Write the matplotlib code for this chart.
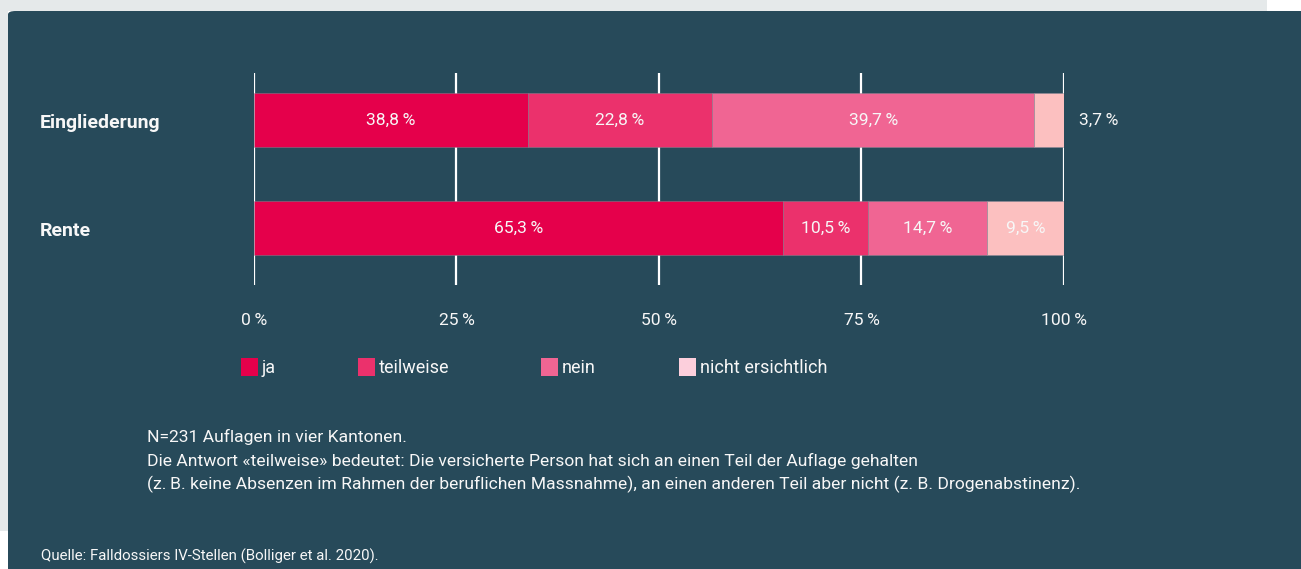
import matplotlib
matplotlib.use("Agg")
import matplotlib.pyplot as plt
from matplotlib import font_manager
from matplotlib.patches import FancyBboxPatch, Rectangle

# data
categories = ["Eingliederung", "Rente"]
answers = ["ja", "teilweise", "nein", "nicht ersichtlich"]
eingliederung = [33.8, 22.8, 39.7, 3.7]
rente = [65.3, 10.5, 14.7, 9.5]
eingliederung_labels = ["38,8\u2009%", "22,8\u2009%", "39,7\u2009%", "3,7\u2009%"]
rente_labels = ["65,3\u2009%", "10,5\u2009%", "14,7\u2009%", "9,5\u2009%"]
tick_values = [0, 25, 50, 75, 100]
tick_labels = ["0\u2009%", "25\u2009%", "50\u2009%", "75\u2009%", "100\u2009%"]
notes = [
    "N=231 Auflagen in vier Kantonen.",
    "Die Antwort «teilweise» bedeutet: Die versicherte Person hat sich an einen Teil der Auflage gehalten",
    "(z.\u2009B. keine Absenzen im Rahmen der beruflichen Massnahme), an einen anderen Teil aber nicht (z. B. Drogenabstinenz).",
]
source = "Quelle: Falldossiers IV-Stellen (Bolliger et al. 2020)."

BG = "#274a5a"
COLORS = ["#e5004b", "#eb316c", "#f06593", "#fcc0c0"]
LEGEND_COLORS = ["#e5004b", "#eb316c", "#f06593", "#fccfdc"]
TEXT = "#f7f7f7"
FS = 12.6

available = {f.name for f in font_manager.fontManager.ttflist}
FONT = "Liberation Sans Narrow" if "Liberation Sans Narrow" in available else "Roboto"
plt.rcParams["font.family"] = [FONT, "DejaVu Sans"]

W, H = 1301, 569
fig = plt.figure(figsize=(W / 100, H / 100), dpi=100, facecolor="white")


def fx(px):
    return px / W


def fy(py):
    return 1 - py / H


# page background pieces
fig.patches.append(Rectangle((0, fy(11)), fx(1267), 11 / H, transform=fig.transFigure,
                             facecolor="#e5e9ea", edgecolor="none", zorder=0))
fig.patches.append(Rectangle((0, fy(531)), fx(8), 520 / H, transform=fig.transFigure,
                             facecolor="#e5e9ea", edgecolor="none", zorder=0))
# panel runs past the right and bottom edges so only the top-left corner is rounded
fig.patches.append(FancyBboxPatch((fx(8), -0.1), 1.1 - fx(8), fy(11) + 0.1,
                                  transform=fig.transFigure,
                                  boxstyle="round,pad=0,rounding_size=0.006",
                                  facecolor=BG, edgecolor="none", zorder=0.5))

# bar area: x 0..100 -> px 254..1064, gridlines from y 73 to 285
ax = fig.add_axes([fx(254), fy(285), fx(1064) - fx(254), (285 - 73) / H])
ax.set_zorder(5)
ax.set_xlim(0, 100)
ax.set_ylim(1.528, -0.435)
ax.axis("off")

for t in tick_values:
    ax.axvline(t, color="white", lw=1.6, zorder=1)

for i, (vals, labels) in enumerate([(eingliederung, eingliederung_labels), (rente, rente_labels)]):
    left = 0
    for j, v in enumerate(vals):
        ax.barh(i, v, left=left, height=0.5, color=COLORS[j],
                edgecolor=(0.55, 0.55, 0.6, 0.5), linewidth=0.6, zorder=2)
        if v >= 5:
            ax.text(left + v / 2, i, labels[j], ha="center", va="center",
                    color=TEXT, fontsize=FS, zorder=3)
        else:
            ax.text(101.9, i, labels[j], ha="left", va="center",
                    color=TEXT, fontsize=FS, zorder=3, clip_on=False)
        left += v
    fig.text(fx(40), fy(123 + 108 * i), categories[i], ha="left", va="center",
             color=TEXT, fontsize=14, fontweight="bold")

for t, lab in zip(tick_values, tick_labels):
    ax.text(t, 1.528 + 0.33, lab, ha="center", va="center", color=TEXT, fontsize=FS,
            clip_on=False)

# legend
legend_x = [241, 358, 541, 679]
for x, name, c in zip(legend_x, answers, LEGEND_COLORS):
    fig.patches.append(Rectangle((fx(x), fy(376)), 17 / W, 18 / H, transform=fig.transFigure,
                                 facecolor=c, edgecolor="none", zorder=3))
    fig.text(fx(x + 21), fy(368), name, ha="left", va="center", color=TEXT, fontsize=13)

for k, line in enumerate(notes):
    fig.text(fx(147), fy(437 + 23.5 * k), line, ha="left", va="center", color=TEXT, fontsize=FS)

fig.text(fx(41), fy(556), source, ha="left", va="center", color=TEXT, fontsize=10.8)

fig.savefig("out.png", dpi=100, facecolor="white")
